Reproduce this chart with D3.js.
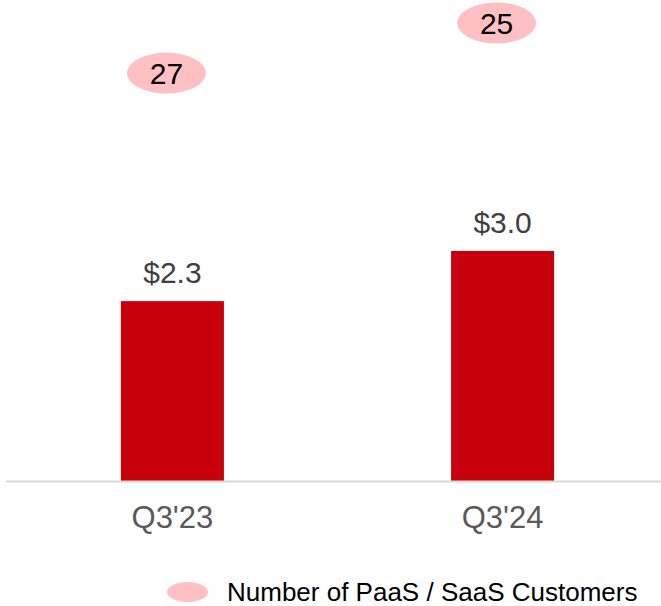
<!DOCTYPE html>
<html>
<head>
<meta charset="utf-8">
<script src="https://cdn.jsdelivr.net/npm/d3@7"></script>
<style>
  body { margin: 0; background: #fff; }
  text { font-family: "Liberation Sans", Arial, sans-serif; }
</style>
</head>
<body>
<svg id="chart" width="661" height="606"></svg>
<script>
// Chart data
var quarters = ["Q3'23", "Q3'24"];
var revenue = [2.33, 2.98];   // labelled to one decimal
var customers = [27, 25];
var legendLabel = "Number of PaaS / SaaS Customers";

var svg = d3.select("#chart");
var baseline = 481;

// Scales
var x = d3.scaleBand().domain(quarters).range([6, 669]).paddingInner(0.688).paddingOuter(0.348);
var y = d3.scaleLinear().domain([0, 6]).range([baseline, baseline - 6 * 77.2]);

// Bars
svg.selectAll("rect.bar")
  .data(quarters).enter()
  .append("rect")
  .attr("class", "bar")
  .attr("x", function (d) { return x(d); })
  .attr("width", x.bandwidth())
  .attr("y", function (d, i) { return y(revenue[i]); })
  .attr("height", function (d, i) { return baseline - y(revenue[i]); })
  .attr("fill", "#c8000b");

// Value labels
svg.selectAll("text.val")
  .data(quarters).enter()
  .append("text")
  .attr("x", function (d) { return x(d) + x.bandwidth() / 2; })
  .attr("y", function (d, i) { return y(revenue[i]) - 18; })
  .attr("text-anchor", "middle")
  .attr("font-size", "30px")
  .attr("fill", "#404040")
  .text(function (d, i) { return "$" + revenue[i].toFixed(1); });

// Customer bubbles, sitting above each bar
var bubbles = svg.selectAll("g.bubble")
  .data(quarters).enter()
  .append("g")
  .attr("class", "bubble")
  .attr("transform", function (d, i) {
    return "translate(" + (x(d) + x.bandwidth() / 2 - 6) + "," + (y(revenue[i]) - 228) + ")";
  });

bubbles.append("ellipse")
  .attr("rx", 39.5).attr("ry", 20.5)
  .attr("fill", "#ffc0c4");

bubbles.append("text")
  .attr("text-anchor", "middle")
  .attr("dy", "0.36em")
  .attr("font-size", "30px")
  .attr("fill", "#000")
  .text(function (d, i) { return customers[i]; });

// Axis line
svg.append("line")
  .attr("x1", 6).attr("x2", 661)
  .attr("y1", baseline + 0.5).attr("y2", baseline + 0.5)
  .attr("stroke", "#d9d9d9").attr("stroke-width", 2);

// Category labels
svg.selectAll("text.cat")
  .data(quarters).enter()
  .append("text")
  .attr("x", function (d) { return x(d) + x.bandwidth() / 2; })
  .attr("y", 528)
  .attr("text-anchor", "middle")
  .attr("font-size", "31px")
  .attr("fill", "#595959")
  .text(function (d) { return d; });

// Legend
svg.append("ellipse")
  .attr("cx", 187.5).attr("cy", 592)
  .attr("rx", 20.5).attr("ry", 10)
  .attr("fill", "#ffc0c4");

svg.append("text")
  .attr("x", 227).attr("y", 601)
  .attr("font-size", "26px")
  .attr("fill", "#000")
  .text(legendLabel);
</script>
</body>
</html>
